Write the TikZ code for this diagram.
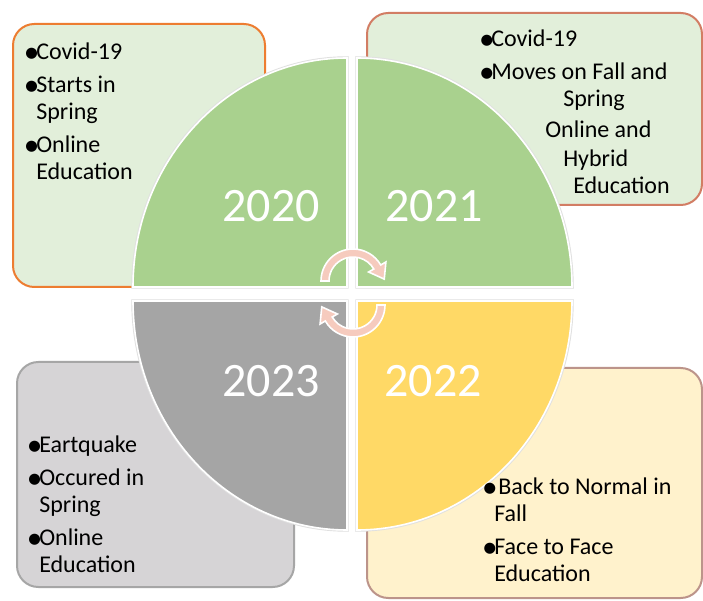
\documentclass[tikz,border=0pt]{standalone}
\usepackage{fontspec}
\setmainfont{Carlito}
\usepackage{xcolor}
\usepackage{graphicx}
\usepackage{tikz}
\usetikzlibrary{positioning}

\definecolor{leafgreen}{HTML}{A9D18E}
\definecolor{stonegray}{HTML}{A5A5A5}
\definecolor{sunyellow}{HTML}{FFD966}
\definecolor{palegreen}{HTML}{E2EFDA}
\definecolor{palegray}{HTML}{D6D4D6}
\definecolor{palecream}{HTML}{FFF2CC}
\definecolor{edgeorange}{HTML}{ED7D31}
\definecolor{edgebrick}{HTML}{D27D64}
\definecolor{edgegray}{HTML}{A6A6A6}
\definecolor{edgemauve}{HTML}{BC948A}
\definecolor{arrowpink}{HTML}{F6CBBE}

\newcommand{\bul}{\makebox[6.75pt][c]{\raisebox{-1.9pt}{\scalebox{1.3}{\textbullet}}}}
\newcommand{\bpad}{\hspace*{6.75pt}}

\begin{document}
\begin{tikzpicture}[x=0.75pt, y=0.75pt,
    panel/.style={draw, rectangle, rounded corners=16pt, line width=1.5pt, outer sep=0pt, anchor=north west},
    notes/.style={align=left, inner sep=0pt, font=\fontsize{18}{20.25}\selectfont},
    quarter/.style={preaction={draw=black!12, line width=2.6pt}, draw=white, line width=1.2pt},
    year/.style={text=white, inner sep=0pt, anchor=base, font=\fontsize{36}{40}\selectfont},
    turnarrow/.pic={
        \filldraw[fill=arrowpink, draw=white, line width=1.2pt]
            (180:32) arc[start angle=180, end angle=30, radius=32] -- (30:38)
            -- ([shift={(-60:14)}]30:28) -- (30:18) -- (30:24)
            arc[start angle=30, end angle=180, radius=24] -- cycle;
    }]
        \useasboundingbox[fill=white] (0,0) rectangle (703,600);

        % Boxes
        \node (box2020) [panel, draw=edgeorange, fill=palegreen, minimum width=189pt, minimum height=197.25pt] at (13,576) {};
        \node (box2021) [panel, draw=edgebrick, fill=palegreen, minimum width=251.25pt, minimum height=144pt] at (367,587) {};
        \node (box2023) [panel, draw=edgegray, fill=palegray, minimum width=207.75pt, minimum height=168.75pt] at (17,238) {};
        \node (box2022) [panel, draw=edgemauve, fill=palecream, minimum width=251.25pt, minimum height=172.5pt] at (367,232) {};

        % Quarters of the circle
        \path[quarter, fill=leafgreen] (347,313) -- (133,313) arc[start angle=180, end angle=90, x radius=214, y radius=229] -- cycle;
        \path[quarter, fill=leafgreen] (357,313) -- (357,542) arc[start angle=90, end angle=0, x radius=215, y radius=229] -- cycle;
        \path[quarter, fill=sunyellow] (357,299) -- (572,299) arc[start angle=0, end angle=-90, x radius=215, y radius=229] -- cycle;
        \path[quarter, fill=stonegray] (347,299) -- (347,70) arc[start angle=270, end angle=180, x radius=214, y radius=229] -- cycle;

        % Years
        \node (year2020) [year] at (271,378) {2020};
        \node (year2021) [year] at (434,378) {2021};
        \node (year2023) [year] at (271,203) {2023};
        \node (year2022) [year] at (433,203) {2022};

        % Turning arrows
        \pic at (353,319) {turnarrow};
        \pic[rotate=180] at (353,295) {turnarrow};

        % Notes
        \node (notes2020) [notes, below right=14.25pt and 10.5pt of box2020.north west] {%
            \bul Covid-19\\[4.5pt]
            \bul Starts in\\
            \bpad Spring\\[4.5pt]
            \bul Online\\
            \bpad Education};
        \node (notes2021) [notes, below right=12.75pt and 86.25pt of box2021.north west] {%
            \bul Covid-19\\[4.5pt]
            \bul Moves on Fall and\\
            \hspace*{60.75pt}Spring\\[3pt]
            \hspace*{47.25pt}Online and\\[1.5pt]
            \hspace*{60.75pt}Hybrid\\
            \hspace*{68.25pt}Education};
        \node (notes2023) [notes, below right=55.5pt and 9.75pt of box2023.north west] {%
            \bul Eartquake\\[4.5pt]
            \bul Occured in\\
            \bpad Spring\\[4.5pt]
            \bul Online\\
            \bpad Education};
        \node (notes2022) [notes, below right=82.5pt and 88.5pt of box2022.north west] {%
            \bul\hspace{3pt}Back to Normal in\\
            \bpad Fall\\[4.5pt]
            \bul Face to Face\\
            \bpad Education};
    \end{tikzpicture}
\end{document}
